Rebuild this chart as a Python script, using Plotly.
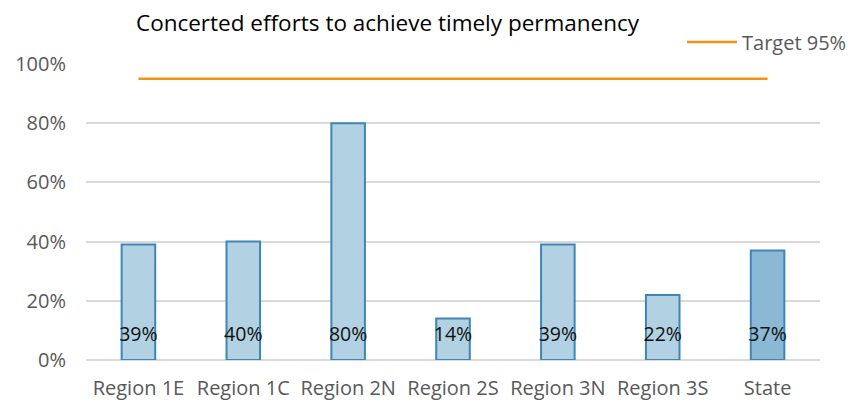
import plotly.graph_objects as go

categories = ["Region 1E", "Region 1C", "Region 2N", "Region 2S", "Region 3N", "Region 3S", "State"]
values = [39, 40, 80, 14, 39, 22, 37]
target = [95] * len(categories)
label_level = 8
tick_vals = [0, 20, 40, 60, 80, 100]
tick_text = ["0%", "20%", "40%", "60%", "80%", "100%"]

fills = ["#b2d1e3"] * 6 + ["#8bb9d4"]
FONT = "'Open Sans', sans-serif"

fig = go.Figure()
fig.add_trace(go.Bar(
    x=categories, y=values, width=0.32,
    marker=dict(color=fills, line=dict(color="#3d86b6", width=2)),
    showlegend=False, hoverinfo="x+y",
))
fig.add_trace(go.Scatter(
    x=categories, y=[label_level] * len(categories),
    text=[f"{v}%" for v in values], mode="text",
    textfont=dict(size=19.5, color="#111111", family=FONT),
    showlegend=False, hoverinfo="skip",
))
fig.add_trace(go.Scatter(
    x=categories, y=target, mode="lines", name="Target 95%",
    line=dict(color="#f39218", width=2.5),
))

# page has an 8px body margin, so the figure is 8px smaller than the window
fig.update_layout(
    width=851, height=394,
    margin=dict(l=78, r=39, t=56, b=42, autoexpand=False),
    paper_bgcolor="white", plot_bgcolor="white",
    title=dict(text="Concerted efforts to achieve timely permanency",
               x=0.446, xanchor="center", y=0.961, yanchor="middle",
               font=dict(size=22.5, color="black", family=FONT)),
    legend=dict(x=1.0436, xanchor="right", y=1.074, yanchor="middle",
                font=dict(size=20, color="#595959", family=FONT),
                bgcolor="rgba(0,0,0,0)", itemwidth=50),
    xaxis=dict(showgrid=False, showline=False, ticks="",
               tickfont=dict(size=20, color="#595959", family=FONT),
               ticklabelstandoff=14),
    yaxis=dict(range=[0, 100], tickvals=tick_vals, ticktext=tick_text,
               showgrid=True, gridcolor="#d9d9d9", gridwidth=1.5,
               zeroline=True, zerolinecolor="#d9d9d9", zerolinewidth=1.5,
               showline=False, ticks="",
               tickfont=dict(size=20, color="#595959", family=FONT),
               ticklabelstandoff=19),
    bargap=0.68,
)

fig.write_html("out.html")
